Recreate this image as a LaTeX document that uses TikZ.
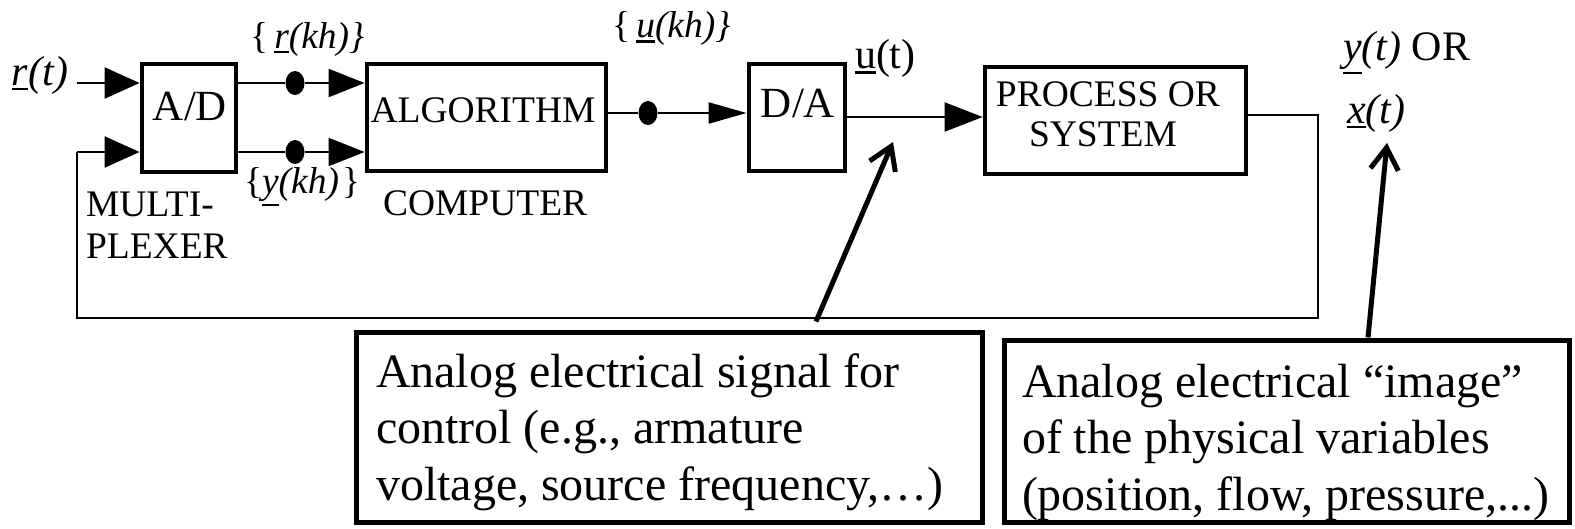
\documentclass[tikz,border=0pt]{standalone}
\usepackage{fontspec}
\setmainfont{Liberation Serif}
\usetikzlibrary{arrows.meta,shapes.geometric}
\newcommand{\myul}[1]{\vtop{\hbox{#1}\kern2.5pt\hrule height 2.6pt}}
\newcommand{\fsBlk}{\fontsize{37.5}{44}\selectfont}
\newcommand{\fsConv}{\fontsize{43}{50}\selectfont}
\newcommand{\fsKh}{\fontsize{37.5}{44}\selectfont}
\newcommand{\fsT}{\fontsize{42}{50}\selectfont}
\newcommand{\fsNote}{\fontsize{48}{56.5}\selectfont}
\begin{document}
\begin{tikzpicture}[x=1pt,y=-1pt,
  blk/.style={draw, line width=4.8pt, inner sep=0pt},
  notebox/.style={draw, line width=5pt, inner sep=0pt},
  lbl/.style={inner sep=0pt, outer sep=0pt},
  sig/.style={line width=2.2pt},
  fbline/.style={line width=2.2pt},
  dotn/.style={ellipse, fill, inner sep=0pt, minimum width=19pt, minimum height=24pt},
  tipin/.style={-{Triangle[length=35pt,width=31pt]}},
  tipad/.style={-{Triangle[length=36pt,width=28pt]}},
  tipda/.style={-{Triangle[length=38pt,width=21pt]}},
  tipu/.style={-{Triangle[length=38pt,width=29pt]}},
  ann/.style={line width=5pt, -{Straight Barb[length=22pt,width=28pt]}}
]
\useasboundingbox (0,0) rectangle (1575,528);

% blocks
\node[blk, minimum width=94pt, minimum height=108pt] (ad) at (189,118) {};
\node[blk, minimum width=239pt, minimum height=107pt] (alg) at (486.5,117.5) {};
\node[blk, minimum width=96pt, minimum height=107pt] (da) at (797,117.5) {};
\node[blk, minimum width=261pt, minimum height=107pt] (proc) at (1115.5,120.5) {};

% block labels
\node[lbl, anchor=base] (adt) at (190,120) {\fsConv A/D};
\node[lbl, anchor=base] (algt) at (483,122) {\fsBlk ALGORITHM};
\node[lbl, anchor=base] (dat) at (798,117) {\fsConv D/A};
\node[lbl, anchor=base] (proct1) at (1108,106) {\fsBlk PROCESS OR};
\node[lbl, anchor=base] (proct2) at (1103,146) {\fsBlk SYSTEM};
\node[lbl, anchor=base west] (mux1) at (86,216) {\fsBlk MULTI-};
\node[lbl, anchor=base west] (mux2) at (86,258) {\fsBlk PLEXER};
\node[lbl, anchor=base west] (comp) at (383,215) {\fsBlk COMPUTER};

% signal labels
\node[lbl, anchor=base west] (rt) at (12,85) {\fsT\textit{\myul{r}(t)}};
\node[lbl, anchor=base west] (rkh) at (250,48) {\fsKh\{\,\textit{\myul{r}(kh)\}}};
\node[lbl, anchor=base west] (ykh) at (244,193) {\fsKh\{\textit{\myul{y}(kh)}\kern3pt\}};
\node[lbl, anchor=base west] (ukh) at (612,37) {\fsKh\{\,\textit{\myul{u}(kh)\}}};
\node[lbl, anchor=base west] (ut) at (855,68) {\fsT\myul{u}(t)};
\node[lbl, anchor=base west] (ytor) at (1343,60) {\fsT\textit{\myul{y}(t)} OR};
\node[lbl, anchor=base west] (xt) at (1347,123) {\fsT\textit{\myul{x}(t)}};

% sampling dots
\node[dotn] (d1) at (295,83) {};
\node[dotn] (d2) at (295,152) {};
\node[dotn] (d3) at (648,113) {};

% coordinates
\coordinate (rin) at (77,83);
\coordinate (yin) at (77,152);
\coordinate (uline) at (900,117);
\coordinate (fbo) at (1318,115);
\coordinate (fbb) at (77,318);

% connectors
\draw[sig, tipin] (rin) -- (ad.west |- rin);
\draw[sig] (ad.east |- d1) -- (d1);
\draw[sig, tipad] (d1) -- (alg.west |- d1);
\draw[sig] (ad.east |- d2) -- (d2);
\draw[sig, tipad] (d2) -- (alg.west |- d2);
\draw[sig] (alg.east |- d3) -- (d3);
\draw[sig, tipda] (d3) -- (da.west |- d3);
\draw[sig, tipu] (da.east |- uline) -- (proc.west |- uline);
\draw[fbline] (proc.east |- fbo) -- (fbo) |- (fbb) -- (yin);
\draw[sig, tipin] (yin) -- (ad.west |- yin);

% notes
\node[notebox, minimum width=626pt, minimum height=190pt] (n1) at (669,427) {};
\node[notebox, minimum width=565pt, minimum height=182pt] (n2) at (1286.5,431) {};
\node[lbl, anchor=base west] (n1t) at (376,387) {\parbox[t]{600pt}{\fsNote Analog electrical signal for\\control (e.g., armature\\voltage, source frequency,…)}};
\node[lbl, anchor=base west] (n2t) at (1022,397) {\parbox[t]{545pt}{\fsNote Analog electrical “image”\\of the physical variables\\(position, flow, pressure,...)}};

\coordinate (a1s) at (816,321);
\coordinate (a1t) at (893,142);
\coordinate (a2s) at (1368,333);
\coordinate (a2t) at (1387,143);
\draw[ann] (n1.north -| a1s) ++(0,-8) -- (a1t);
\draw[ann] (n2.north -| a2s) -- (a2t);
\end{tikzpicture}
\end{document}
